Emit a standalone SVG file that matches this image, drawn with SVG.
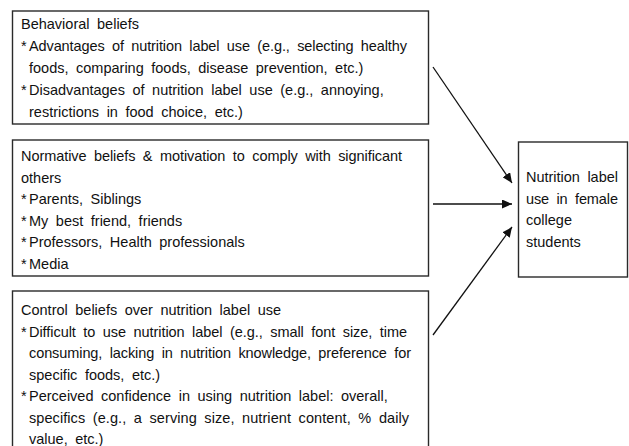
<svg xmlns="http://www.w3.org/2000/svg" width="629" height="446" viewBox="0 0 629 446">
<style>
.box{fill:#fff;stroke:#2a2a2a;stroke-width:1.4}
text{font-family:"Liberation Sans",Arial,sans-serif;font-size:14.5px;fill:#111;word-spacing:3.5px}
.conn{stroke:#111;stroke-width:1.3;fill:none;marker-end:url(#ah)}
</style>
<defs>
<marker id="ah" markerWidth="11" markerHeight="9" refX="10" refY="4.5" orient="auto" markerUnits="userSpaceOnUse">
<path d="M0,0 L10,4.5 L0,9 Z" fill="#111"/>
</marker>
</defs>
<rect width="629" height="446" fill="#fff"/>
<g id="behavioral">
<rect class="box" x="12.5" y="11" width="416" height="113"/>
<text x="21" y="29">Behavioral beliefs</text>
<text x="21" y="51">*</text>
<text x="29" y="51" textLength="378" lengthAdjust="spacing">Advantages of nutrition label use (e.g., selecting healthy</text>
<text x="29" y="73">foods, comparing foods, disease prevention, etc.)</text>
<text x="21" y="95">*</text>
<text x="29" y="95">Disadvantages of nutrition label use (e.g., annoying,</text>
<text x="29" y="117">restrictions in food choice, etc.)</text>
</g>
<g id="normative">
<rect class="box" x="12.5" y="140" width="416" height="136"/>
<text x="21" y="161" textLength="381" lengthAdjust="spacing">Normative beliefs &amp; motivation to comply with significant</text>
<text x="21" y="183">others</text>
<text x="21" y="204">*</text>
<text x="29" y="204">Parents, Siblings</text>
<text x="21" y="226">*</text>
<text x="29" y="226">My best friend, friends</text>
<text x="21" y="247">*</text>
<text x="29" y="247">Professors, Health professionals</text>
<text x="21" y="269">*</text>
<text x="29" y="269">Media</text>
</g>
<g id="control">
<rect class="box" x="12.5" y="291" width="416" height="170"/>
<text x="21" y="315">Control beliefs over nutrition label use</text>
<text x="21" y="337">*</text>
<text x="29" y="337" textLength="378" lengthAdjust="spacing">Difficult to use nutrition label (e.g., small font size, time</text>
<text x="29" y="358" textLength="382" lengthAdjust="spacing">consuming, lacking in nutrition knowledge, preference for</text>
<text x="29" y="380">specific foods, etc.)</text>
<text x="21" y="401">*</text>
<text x="29" y="401">Perceived confidence in using nutrition label: overall,</text>
<text x="29" y="423" textLength="380" lengthAdjust="spacing">specifics (e.g., a serving size, nutrient content, % daily</text>
<text x="29" y="444">value, etc.)</text>
</g>
<g id="outcome">
<rect class="box" x="518.5" y="142" width="109" height="135"/>
<text x="526" y="182" textLength="92" lengthAdjust="spacing">Nutrition label</text>
<text x="526" y="204" textLength="92" lengthAdjust="spacing">use in female</text>
<text x="526" y="225">college</text>
<text x="526" y="247">students</text>
</g>
<g id="connectors">
<line class="conn" x1="433" y1="67" x2="512" y2="183"/>
<line class="conn" x1="433" y1="204" x2="512" y2="204"/>
<line class="conn" x1="433" y1="335" x2="512" y2="227"/>
</g>
</svg>
